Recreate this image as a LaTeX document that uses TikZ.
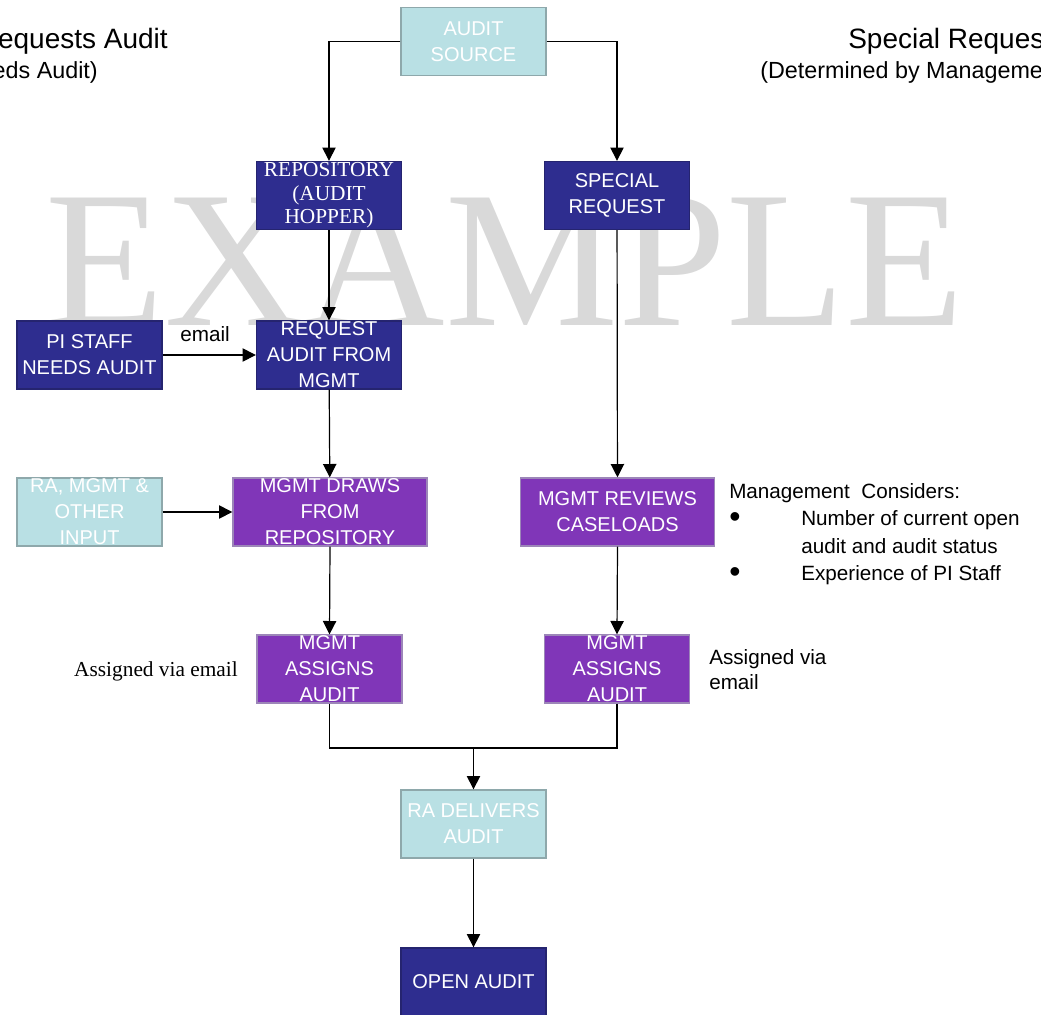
\documentclass[tikz,border=0pt]{standalone}
\usepackage{fontspec}
\setmainfont{Liberation Sans}
\newfontfamily\timesfont{Liberation Serif}
\usetikzlibrary{arrows.meta}
\definecolor{boxblue}{HTML}{2E2D8F}
\definecolor{boxblueline}{HTML}{25246F}
\definecolor{boxpurple}{HTML}{8036B8}
\definecolor{boxpurpleline}{HTML}{9C86B8}
\definecolor{boxcyan}{HTML}{B9E0E4}
\definecolor{boxcyanline}{HTML}{8EA8AB}
\tikzstyle{box} = [rectangle, minimum width=108.75pt, minimum height=51pt, inner sep=0pt, align=center, text=white, line width=1pt, font=\fontsize{15}{19.5}\selectfont]
\tikzstyle{darkbox} = [box, fill=boxblue, draw=boxblueline]
\tikzstyle{purplebox} = [box, fill=boxpurple, draw=boxpurpleline]
\tikzstyle{lightbox} = [box, fill=boxcyan, draw=boxcyanline]
\tikzstyle{widebox} = [minimum width=145.5pt]
\tikzstyle{arrow} = [line width=0.9pt, -{Triangle[length=10pt, width=10pt]}]
\tikzstyle{note} = [inner sep=0pt, font=\fontsize{15.5}{19}\selectfont]
\tikzstyle{header} = [inner sep=0pt, font=\fontsize{21}{24}\selectfont]
\tikzstyle{subheader} = [inner sep=0pt, font=\fontsize{17.5}{20}\selectfont]

\begin{document}
\begin{tikzpicture}[x=0.75pt, y=-0.75pt]
\useasboundingbox (0,0) rectangle (1041,1014);

% watermark
\node (watermark) [inner sep=0pt, anchor=base, text=gray!30, font=\fontsize{146}{146}\timesfont] at (505,325) {EXAMPLE};

% headings
\node (lefthead) [header, anchor=base east] at (168,48) {equests Audit};
\node (leftsub) [subheader, anchor=base east] at (98,78) {eds Audit)};
\node (righthead) [header, anchor=base west] at (848,48) {Special Reques};
\node (rightsub) [subheader, anchor=base west] at (760,78) {(Determined by Manageme};

\node (source) [lightbox] at (473.5,41.5) {AUDIT\\SOURCE};
\node (repo) [darkbox, font=\fontsize{16}{17.6}\timesfont] at (329,195.5) {REPOSITORY\\(AUDIT\\HOPPER)};
\node (special) [darkbox] at (617,195.5) {SPECIAL\\REQUEST};
\node (pistaff) [darkbox] at (89.5,355) {PI STAFF\\NEEDS AUDIT};
\node (request) [darkbox] at (329,355) {REQUEST\\AUDIT FROM\\MGMT};
\node (input) [lightbox] at (89.5,512) {RA, MGMT \&\\OTHER\\INPUT};
\node (draws) [purplebox, widebox] at (330,512) {MGMT DRAWS\\FROM\\REPOSITORY};
\node (reviews) [purplebox, widebox] at (617.5,512) {MGMT REVIEWS\\CASELOADS};
\node (assignl) [purplebox] at (329.5,669) {MGMT\\ASSIGNS\\AUDIT};
\node (assignr) [purplebox] at (617,669) {MGMT\\ASSIGNS\\AUDIT};
\node (delivers) [lightbox] at (473.5,824) {RA DELIVERS\\AUDIT};
\node (open) [darkbox] at (473.5,982) {OPEN AUDIT};
\coordinate (merge) at (473.5,748);

% side notes
\node (emailnote) [note] at (205,334) {email};
\node (assignlnote) [note, font=\fontsize{16}{19}\timesfont] at (156,671) {Assigned via email};
\node (assignrnote) [note, anchor=north west, align=left] at (709,649) {Assigned via\\email};
\node (considers) [note, anchor=base west] at (729,498) {Management\ \ Considers:};
\node (bulleta) [note, anchor=base west, font=\fontsize{24}{24}\selectfont] at (729,527) {\textbullet};
\node (itema) [note, anchor=base west] at (801,525) {Number of current open};
\node (itemb) [note, anchor=base west] at (801,553) {audit and audit status};
\node (bulletb) [note, anchor=base west, font=\fontsize{24}{24}\selectfont] at (729,582) {\textbullet};
\node (itemc) [note, anchor=base west] at (801,580) {Experience of PI Staff};

\draw [arrow] (source.west) -| (repo.north);
\draw [arrow] (source.east) -| (special.north);
\draw [arrow] (repo) -- (request);
\draw [arrow] (pistaff) -- (request);
\draw [arrow] (request) -- (draws);
\draw [arrow] (input) -- (draws);
\draw [arrow] (special) -- (reviews);
\draw [arrow] (draws.south) -- (assignl.north);
\draw [arrow] (reviews.south) -- (assignr.north);
\draw [line width=0.9pt] (assignl.south) |- (merge);
\draw [line width=0.9pt] (assignr.south) |- (merge);
\draw [arrow] (merge) -- (delivers.north);
\draw [arrow] (delivers) -- (open);

\end{tikzpicture}
\end{document}
